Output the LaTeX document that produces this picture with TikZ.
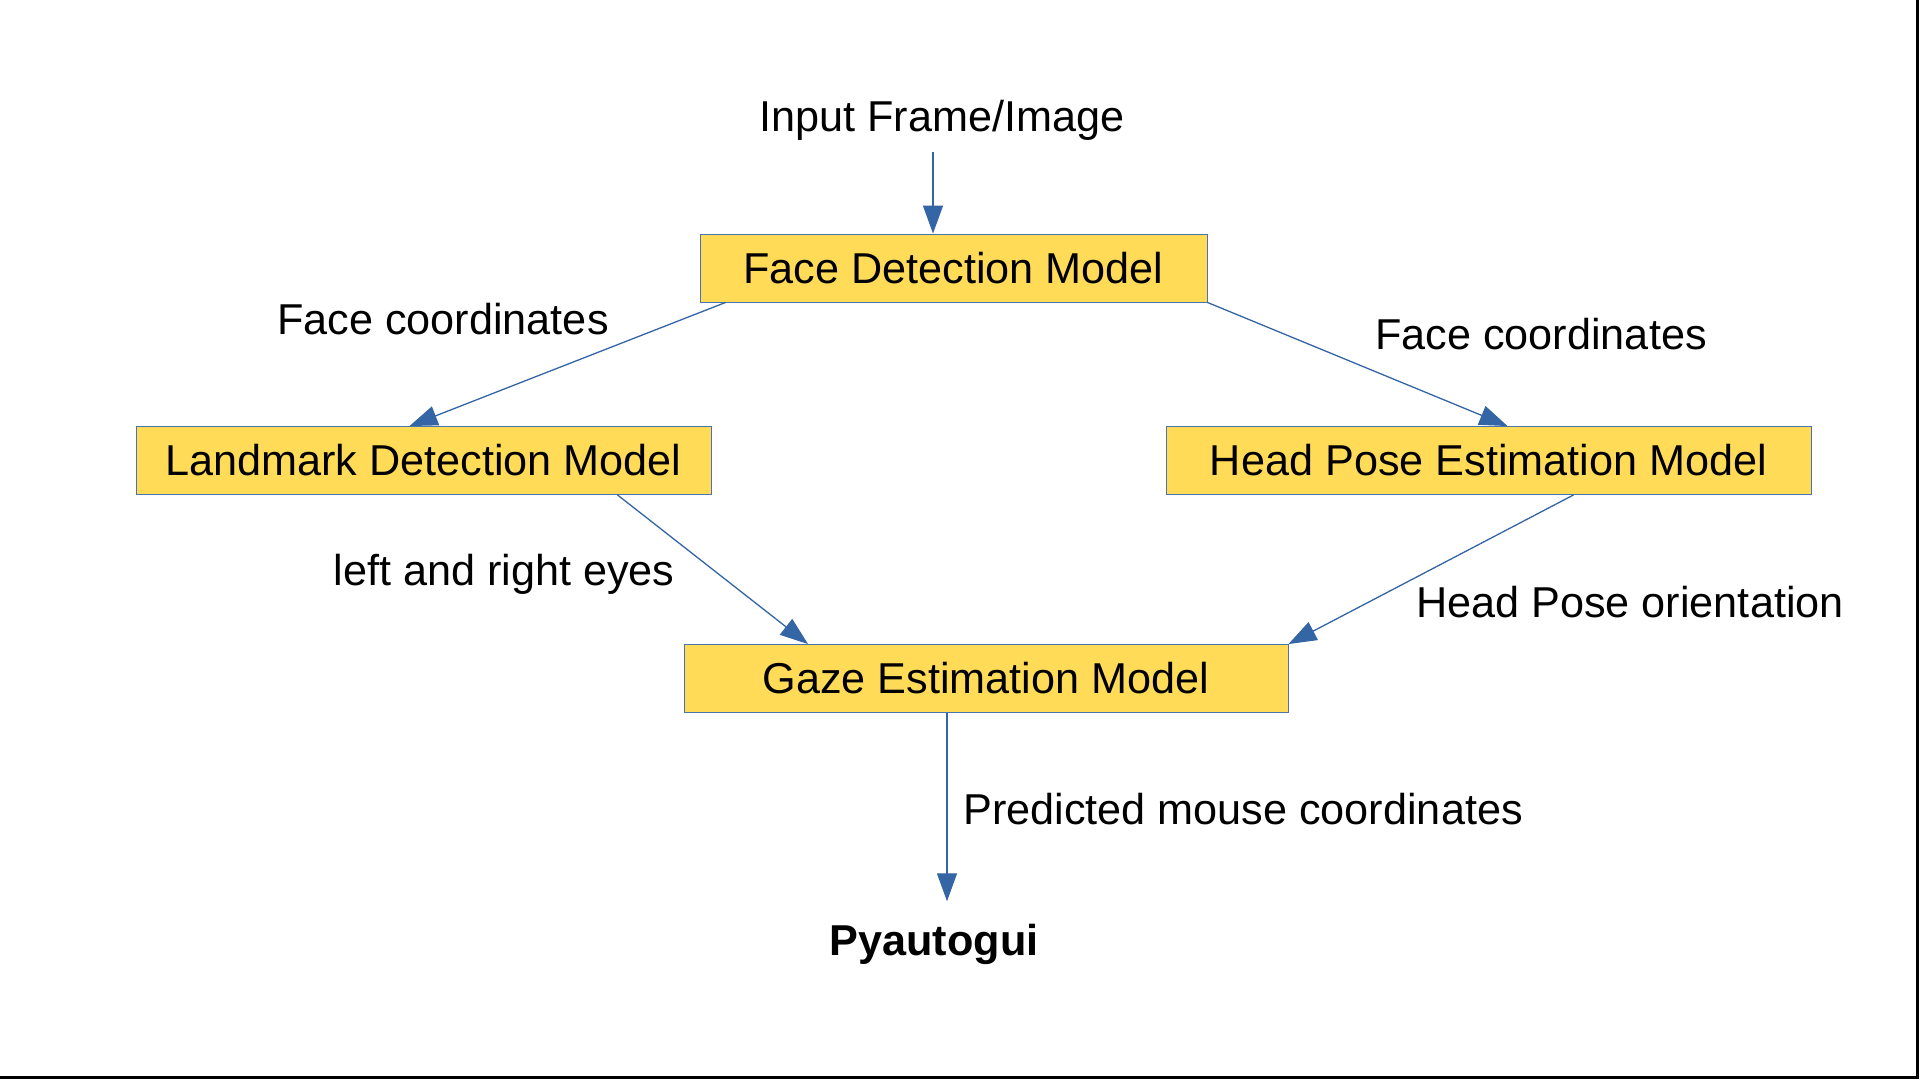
\documentclass[tikz,border=0pt]{standalone}
\usepackage{fontspec}
\setmainfont{Liberation Sans}
\usetikzlibrary{arrows.meta}
\definecolor{boxfill}{HTML}{FFDB58}
\definecolor{lineblue}{HTML}{3465A4}
\definecolor{boxline}{HTML}{4A74AC}
\tikzset{
  modelbox/.style={draw=boxline, line width=0.45pt, fill=boxfill, minimum height=34pt, inner sep=0pt, font=\fontsize{21.6pt}{26pt}\selectfont},
  lbl/.style={anchor=base, inner sep=0pt, font=\fontsize{21.6pt}{26pt}\selectfont},
  flow/.style={draw=lineblue, line width=0.65pt, -{Triangle[length=14pt,width=10pt]}, fill=lineblue}
}
\begin{document}
\begin{tikzpicture}[x=0.5pt,y=0.5pt,yscale=-1,xscale=1]
    \useasboundingbox (0,0) rectangle (1920,1080);
    % Page edges
    \draw[line width=1.5pt] (1917.5,0) -- (1917.5,1077.5) -- (0,1077.5);
    % Models
    \node[modelbox, minimum width=253.5pt] (fd) at (953.5,268) {Face Detection Model};
    \node[modelbox, minimum width=287.5pt] (lm) at (423.5,460.5) {Landmark Detection Model};
    \node[modelbox, minimum width=322.5pt] (hp) at (1488.5,460.5) {Head Pose Estimation Model};
    \node[modelbox, minimum width=302pt] (gz) at (986,678.5) {Gaze Estimation Model};
    % Input and output
    \node[lbl, inner ysep=5.5pt] (in) at (942,132) {Input Frame/Image};
    \node[lbl, inner ysep=11pt, font=\fontsize{21.6pt}{26pt}\selectfont\bfseries] (py) at (934,955) {Pyautogui};
    % Edge labels
    \node[lbl] (fcl) at (443,334.5) {Face coordinates};
    \node[lbl] (fcr) at (1541,350) {Face coordinates};
    \node[lbl] (eyes) at (504,585) {left and right eyes};
    \node[lbl] (ori) at (1630,617) {Head Pose orientation};
    \node[lbl] (mouse) at (1243,824) {Predicted mouse coordinates};
    % Connectors
    \draw[flow] ([xshift=-4.5pt]in.south) -- ([xshift=-4.5pt]in.south |- fd.north);
    \draw[flow] ([xshift=13pt]fd.south west) -- ([xshift=-7pt]lm.north);
    \draw[flow] (fd.south east) -- ([xshift=9.5pt]hp.north);
    \draw[flow] ([xshift=97pt]lm.south) -- ([xshift=-89pt]gz.north);
    \draw[flow] ([xshift=42.5pt]hp.south) -- (gz.north east);
    \draw[flow] ([xshift=-19.5pt]gz.south) -- ([xshift=-19.5pt]gz.south |- py.north);
\end{tikzpicture}
\end{document}
